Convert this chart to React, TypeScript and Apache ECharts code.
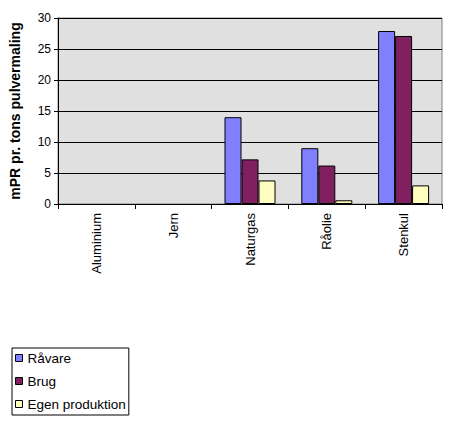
import React, { useEffect, useRef } from "react";
import * as echarts from "echarts";

const categories = ["Aluminium", "Jern", "Naturgas", "Råolie", "Stenkul"];
const raavare = [null, null, 14.0, 9.0, 27.9];
const brug = [null, null, 7.2, 6.2, 27.1];
const egen = [null, null, 3.8, 0.6, 3.0];
const seriesNames = ["Råvare", "Brug", "Egen produktion"];
const colors = ["#8080ff", "#802060", "#ffffc0"];
const yTitle = "mPR pr. tons pulvermaling";

export default function App() {
  const ref = useRef<HTMLDivElement>(null);
  useEffect(() => {
    const chart = echarts.init(ref.current!, null, { renderer: "svg" });
    const font = "'Liberation Sans', Arial, sans-serif";
    const data = [raavare, brug, egen];
    chart.setOption({
      animation: false,
      backgroundColor: "#ffffff",
      textStyle: { fontFamily: font, color: "#000" },
      grid: {
        left: 55,
        right: 10,
        top: 18,
        bottom: 226,
        show: true,
        backgroundColor: "#e0e0e0",
        borderColor: "#808080",
        borderWidth: 1,
      },
      legend: {
        orient: "vertical",
        left: 12,
        top: 348,
        itemWidth: 7,
        itemHeight: 7,
        itemGap: 9,
        padding: [3, 3, 4, 3],
        borderColor: "#000",
        borderWidth: 1,
        backgroundColor: "#fff",
        icon: "rect",
        itemStyle: { borderColor: "#000", borderWidth: 1 },
        textStyle: { fontFamily: font, fontSize: 13.5, color: "#000" },
        data: seriesNames,
      },
      xAxis: {
        type: "category",
        data: categories,
        axisLine: { lineStyle: { color: "#000", width: 1 } },
        axisTick: { show: true, length: 5, lineStyle: { color: "#000" } },
        axisLabel: {
          rotate: 90,
          interval: 0,
          margin: 9,
          fontFamily: font,
          fontSize: 13,
          color: "#000",
        },
      },
      yAxis: {
        type: "value",
        min: 0,
        max: 30,
        interval: 5,
        name: yTitle,
        nameLocation: "middle",
        nameGap: 36,
        nameTextStyle: { fontFamily: font, fontSize: 14, fontWeight: "bold", color: "#000" },
        axisLine: { show: true, lineStyle: { color: "#000", width: 1 } },
        axisTick: { show: true, length: 4, lineStyle: { color: "#000" } },
        axisLabel: { fontFamily: font, fontSize: 12, color: "#000", margin: 7 },
        splitLine: { show: true, lineStyle: { color: "#000", width: 1 } },
      },
      series: seriesNames.map((name, i) => ({
        name,
        type: "bar",
        data: data[i],
        barWidth: 17,
        barGap: "0%",
        itemStyle: { color: colors[i], borderColor: "#000", borderWidth: 1 },
      })),
    });
    return () => chart.dispose();
  }, []);
  return (
    <div
      ref={ref}
      style={{ position: "fixed", left: 0, top: 0, width: 452, height: 430 }}
    />
  );
}
